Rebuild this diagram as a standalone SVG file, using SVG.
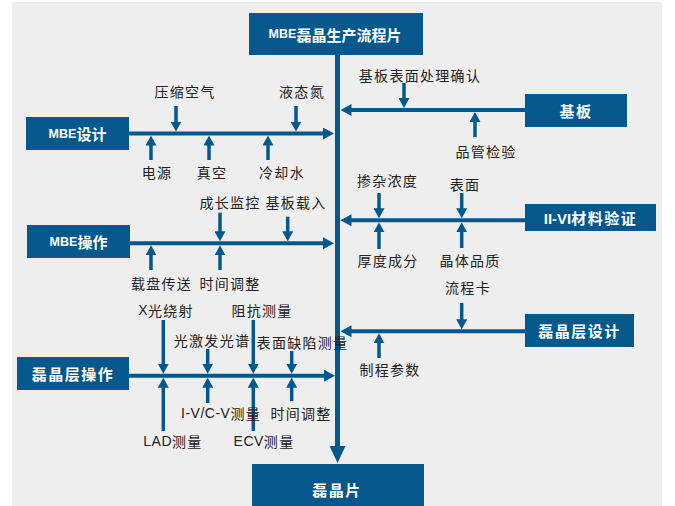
<svg xmlns="http://www.w3.org/2000/svg" width="675" height="506" viewBox="0 0 675 506">
<style>
.bg{fill:#eeeeee}
.box{fill:#04588b}
.bt{fill:#ffffff;font-family:"Noto Sans CJK SC","Liberation Sans",sans-serif;font-size:15px;font-weight:bold;text-anchor:middle;dominant-baseline:central;letter-spacing:1.5px}
.lat{font-family:"Liberation Sans","DejaVu Sans",sans-serif;letter-spacing:0}
.mbe{font-family:"Liberation Sans","DejaVu Sans",sans-serif;font-size:12.5px;letter-spacing:0}
.lb{fill:#222222;font-family:"Noto Sans CJK SC","Liberation Sans",sans-serif;font-size:14px;text-anchor:middle;dominant-baseline:central;letter-spacing:1.3px}
.ll{font-family:"Liberation Sans","DejaVu Sans",sans-serif;letter-spacing:0.5px}
.main{stroke:#04588b;stroke-width:5;fill:none}
.h{stroke:#04588b;stroke-width:4;fill:none}
.s{stroke:#04588b;stroke-width:3.5;fill:none;marker-end:url(#a)}
</style>
<defs>
<marker id="a" viewBox="0 0 10 11" markerWidth="10" markerHeight="11" refX="1" refY="5.5" orient="auto" markerUnits="userSpaceOnUse"><path d="M0,0 L10,5.5 L0,11 z" fill="#04588b"/></marker>
<marker id="b" viewBox="0 0 11 12" markerWidth="11" markerHeight="12" refX="1" refY="6" orient="auto" markerUnits="userSpaceOnUse"><path d="M0,0 L11,6 L0,12 z" fill="#04588b"/></marker>
<marker id="c" viewBox="0 0 17 16" markerWidth="17" markerHeight="16" refX="1" refY="8" orient="auto" markerUnits="userSpaceOnUse"><path d="M0,0 L17,8 L0,16 z" fill="#04588b"/></marker>
</defs>
<rect class="bg" x="12" y="2" width="650" height="504"/>
<g id="connectors">
<path class="main" d="M337.5,55 V447" marker-end="url(#c)"/>
<path class="h" d="M129,133.5 H324" marker-end="url(#b)"/>
<path class="h" d="M130,243.3 H324" marker-end="url(#b)"/>
<path class="h" d="M129,375.7 H325" marker-end="url(#b)"/>
<path class="h" d="M525,110 H350.5" marker-end="url(#b)"/>
<path class="h" d="M525,220.3 H350.5" marker-end="url(#b)"/>
<path class="h" d="M525,331.3 H350.5" marker-end="url(#b)"/>
<path class="s" d="M176,106 V122.5"/>
<path class="s" d="M296,106 V122.5"/>
<path class="s" d="M151,160 V144.5"/>
<path class="s" d="M209,160 V144.5"/>
<path class="s" d="M268,160 V144.5"/>
<path class="s" d="M404,83 V99"/>
<path class="s" d="M475,137 V121"/>
<path class="s" d="M220,212.7 V232.3"/>
<path class="s" d="M287.7,216.7 V232.3"/>
<path class="s" d="M151,270 V254.3"/>
<path class="s" d="M220,270 V254.3"/>
<path class="s" d="M379,193 V209.3"/>
<path class="s" d="M461.7,193 V209.3"/>
<path class="s" d="M379,249 V231.3"/>
<path class="s" d="M461.7,248 V231.3"/>
<path class="s" d="M461.7,303 V320.3"/>
<path class="s" d="M379,358 V342.3"/>
<path class="s" d="M163.3,320 V364.7"/>
<path class="s" d="M207.7,349 V364.7"/>
<path class="s" d="M253.3,320 V364.7"/>
<path class="s" d="M291.7,351 V364.7"/>
<path class="s" d="M163.3,431 V386.7"/>
<path class="s" d="M207.7,403 V386.7"/>
<path class="s" d="M253.3,431 V386.7"/>
<path class="s" d="M291.7,401 V386.7"/>
</g>
<g id="labels">
<text class="lb" x="185" y="91">压缩空气</text>
<text class="lb" x="302" y="91">液态氮</text>
<text class="lb" x="157" y="172">电源</text>
<text class="lb" x="212" y="172">真空</text>
<text class="lb" x="282" y="172">冷却水</text>
<text class="lb" x="420" y="75">基板表面处理确认</text>
<text class="lb" x="486" y="151">品管检验</text>
<text class="lb" x="230" y="202">成长监控</text>
<text class="lb" x="296" y="202">基板载入</text>
<text class="lb" x="161.5" y="283">载盘传送</text>
<text class="lb" x="230" y="283">时间调整</text>
<text class="lb" x="387.5" y="180">掺杂浓度</text>
<text class="lb" x="465" y="184">表面</text>
<text class="lb" x="388" y="260">厚度成分</text>
<text class="lb" x="470" y="260">晶体品质</text>
<text class="lb" x="468" y="287">流程卡</text>
<text class="lb" x="390" y="369">制程参数</text>
<text class="lb" x="166" y="310"><tspan class="ll">X</tspan>光绕射</text>
<text class="lb" x="262" y="310">阻抗测量</text>
<text class="lb" x="212" y="340">光激发光谱</text>
<text class="lb" x="302.5" y="342">表面缺陷测量</text>
<text class="lb" x="173" y="441"><tspan class="ll">LAD</tspan>测量</text>
<text class="lb" x="221" y="413"><tspan class="ll">I-V/C-V</tspan>测量</text>
<text class="lb" x="264" y="441"><tspan class="ll">ECV</tspan>测量</text>
<text class="lb" x="301" y="413">时间调整</text>
</g>
<g id="node-top"><rect class="box" x="249" y="13" width="174" height="42"/><text class="bt" x="335" y="34" style="letter-spacing:0"><tspan class="mbe">MBE</tspan>磊晶生产流程片</text></g>
<g id="node-mbe-design"><rect class="box" x="26" y="117" width="103" height="33"/><text class="bt" x="77.5" y="133.5" style="letter-spacing:0"><tspan class="mbe">MBE</tspan>设计</text></g>
<g id="node-mbe-op"><rect class="box" x="27" y="225" width="103" height="33"/><text class="bt" x="78.5" y="241.5" style="letter-spacing:0"><tspan class="mbe">MBE</tspan>操作</text></g>
<g id="node-epi-op"><rect class="box" x="17" y="357" width="112" height="33"/><text class="bt" x="73" y="373.5">磊晶层操作</text></g>
<g id="node-substrate"><rect class="box" x="525" y="94" width="102" height="33"/><text class="bt" x="576" y="110.5">基板</text></g>
<g id="node-iivi"><rect class="box" x="525" y="204" width="131" height="27"/><text class="bt" x="590.5" y="217.5"><tspan class="lat">II-VI</tspan>材料验证</text></g>
<g id="node-epi-design"><rect class="box" x="525" y="314" width="109" height="33"/><text class="bt" x="579.5" y="330.5">磊晶层设计</text></g>
<g id="node-wafer"><rect class="box" x="252" y="464" width="172" height="46"/><text class="bt" x="337" y="489">磊晶片</text></g>
</svg>
